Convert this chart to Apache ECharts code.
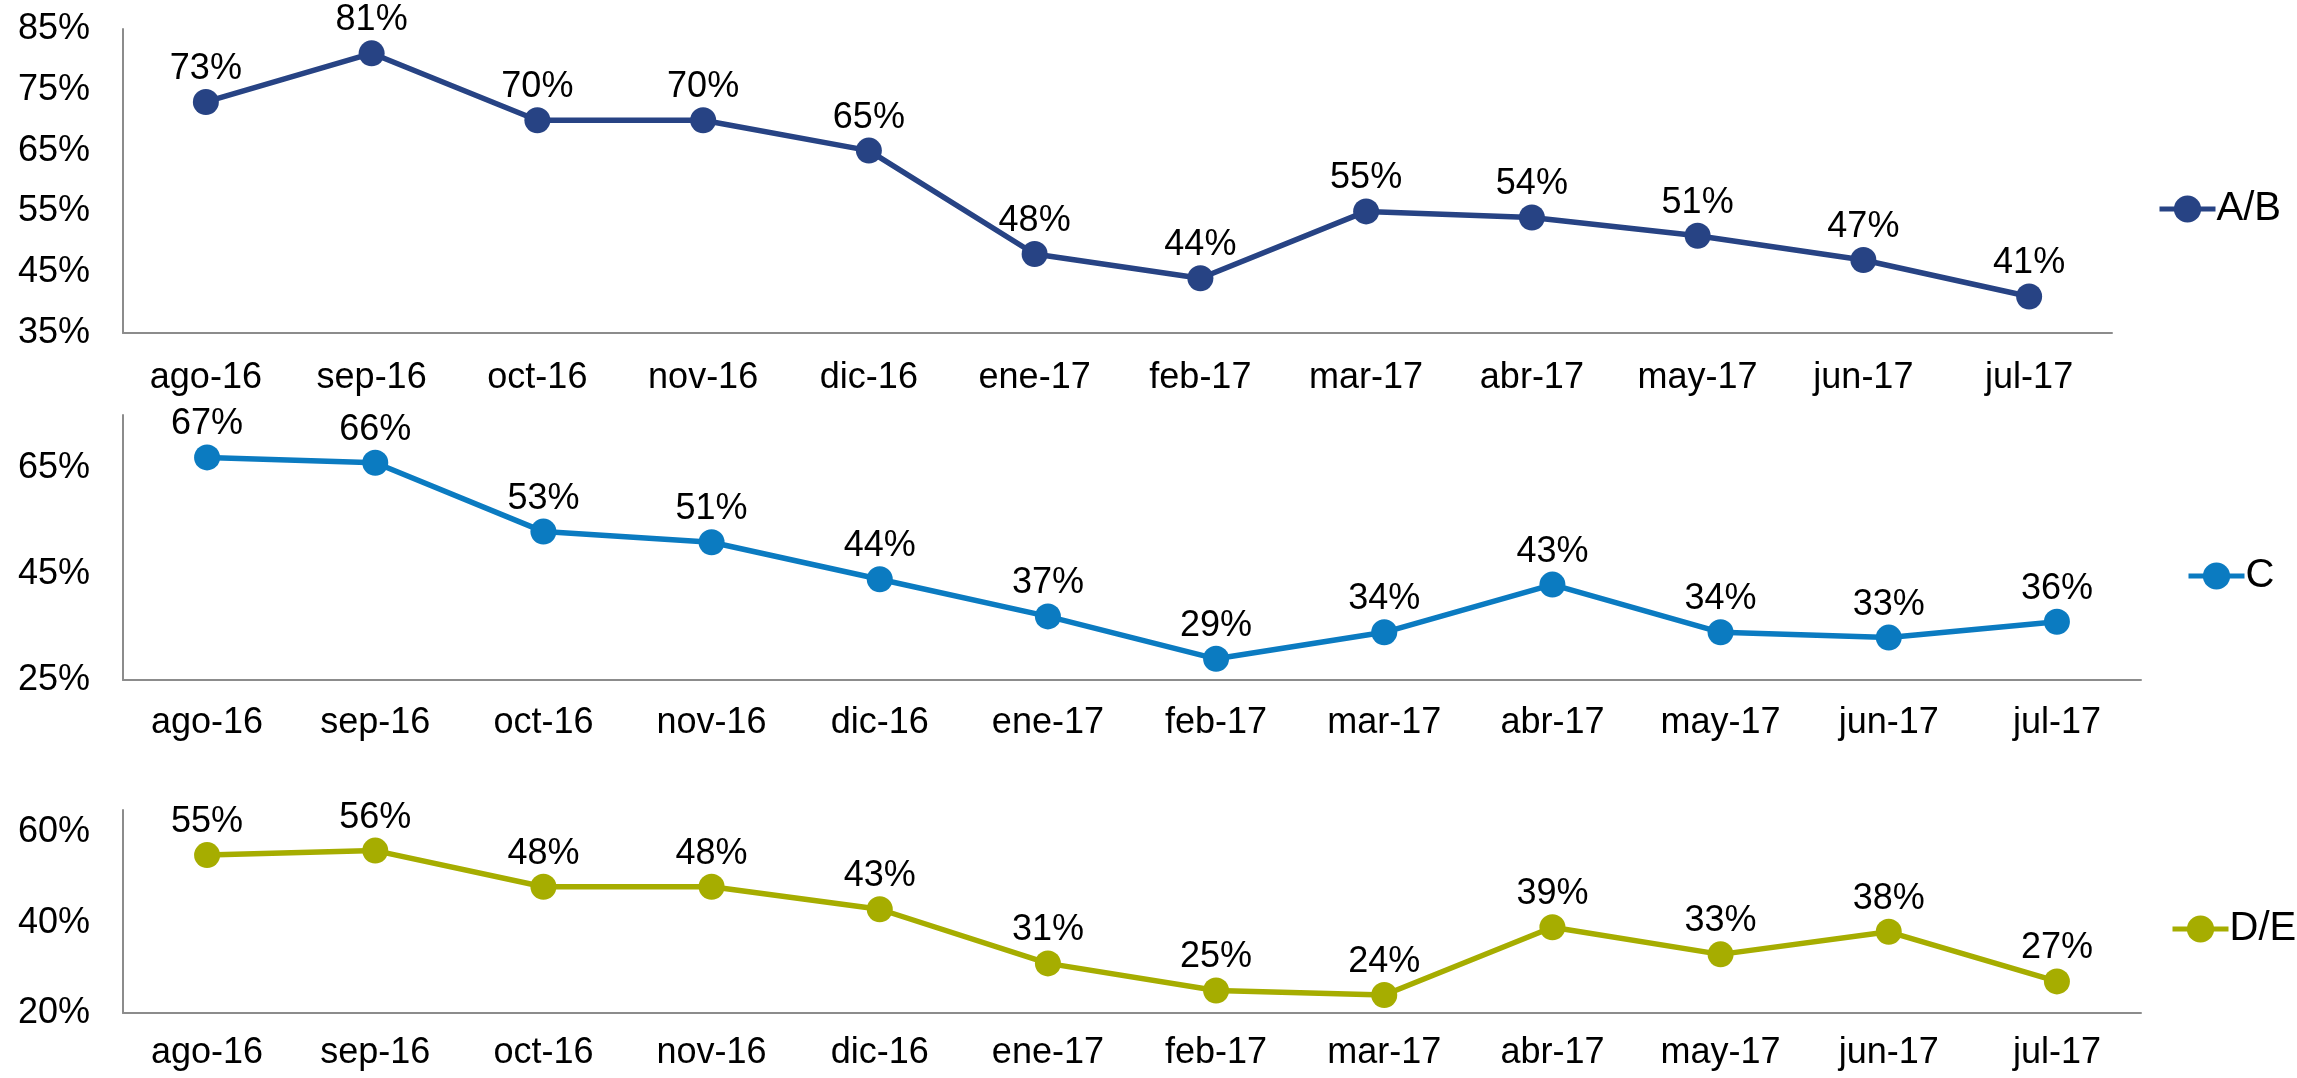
<!DOCTYPE html>
<html>
<head>
<meta charset="utf-8">
<title>A/B, C, D/E</title>
<script src="https://cdn.jsdelivr.net/npm/echarts@6/dist/echarts.min.js"></script>
<style>
  html, body { margin: 0; padding: 0; background: #fff; }
  #chart { width: 2297px; height: 1078px; }
</style>
</head>
<body>
<div id="chart"></div>
<script>
//----- data
var months = ['ago-16', 'sep-16', 'oct-16', 'nov-16', 'dic-16', 'ene-17', 'feb-17', 'mar-17', 'abr-17', 'may-17', 'jun-17', 'jul-17'];
var seriesAB = [73, 81, 70, 70, 65, 48, 44, 55, 54, 51, 47, 41];
var seriesC = [67, 66, 53, 51, 44, 37, 29, 34, 43, 34, 33, 36];
var seriesDE = [55, 56, 48, 48, 43, 31, 25, 24, 39, 33, 38, 27];

var names = ['A/B', 'C', 'D/E'];
var colors = ['#274384', '#0B7BC1', '#A6AD00'];

//----- chart
var dom = document.getElementById('chart');
var myChart = echarts.init(dom);
var font = 'Arial, "Liberation Sans", sans-serif';
var axisColor = '#8c8c8c';

// one grid per panel
var grids = [
    { left: 123, top: 29, width: 1989, height: 304 },
    { left: 123, top: 415, width: 2018, height: 265 },
    { left: 123, top: 810, width: 2018, height: 203 }
];
var yRanges = [
    { min: 35, max: 85, interval: 10 },
    { min: 25, max: 75, interval: 20 },
    { min: 20, max: 65, interval: 20 }
];
var labelMargins = [27, 25, 22];
var legendPos = [
    { left: 2152, top: 184 },
    { left: 2181, top: 551 },
    { left: 2165, top: 904 }
];
var data = [seriesAB, seriesC, seriesDE];

var xAxes = [], yAxes = [], series = [], legends = [];
for (var i = 0; i < 3; i++) {
    xAxes.push({
        type: 'category',
        gridIndex: i,
        data: months,
        boundaryGap: true,
        axisLine: { lineStyle: { color: axisColor, width: 2 } },
        axisTick: { show: false },
        axisLabel: { color: '#000', fontSize: 36, fontFamily: font, margin: labelMargins[i], interval: 0 }
    });
    yAxes.push({
        type: 'value',
        gridIndex: i,
        min: yRanges[i].min,
        max: yRanges[i].max,
        interval: yRanges[i].interval,
        axisLine: { show: true, lineStyle: { color: axisColor, width: 2 } },
        axisTick: { show: false },
        splitLine: { show: false },
        axisLabel: {
            color: '#000', fontSize: 36, fontFamily: font, margin: 33,
            showMaxLabel: i === 0,
            formatter: '{value}%'
        }
    });
    series.push({
        name: names[i],
        type: 'line',
        xAxisIndex: i,
        yAxisIndex: i,
        data: data[i],
        color: colors[i],
        symbol: 'circle',
        symbolSize: 26,
        lineStyle: { width: 5.5, color: colors[i] },
        itemStyle: { color: colors[i] },
        label: {
            show: true,
            position: 'top',
            distance: 2,
            color: '#000',
            fontSize: 36,
            fontFamily: font,
            formatter: '{c}%'
        },
        animation: false
    });
    legends.push({
        data: [names[i]],
        orient: 'vertical',
        left: legendPos[i].left,
        top: legendPos[i].top,
        itemWidth: 56,
        itemHeight: 34,
        lineStyle: { width: 5 },
        textStyle: { color: '#000', fontSize: 40, fontFamily: font, padding: [0, 0, 0, -4] },
        selectedMode: false
    });
}

var option = {
    backgroundColor: '#fff',
    animation: false,
    legend: legends,
    grid: grids,
    xAxis: xAxes,
    yAxis: yAxes,
    series: series
};

myChart.setOption(option, true);
</script>
</body>
</html>
